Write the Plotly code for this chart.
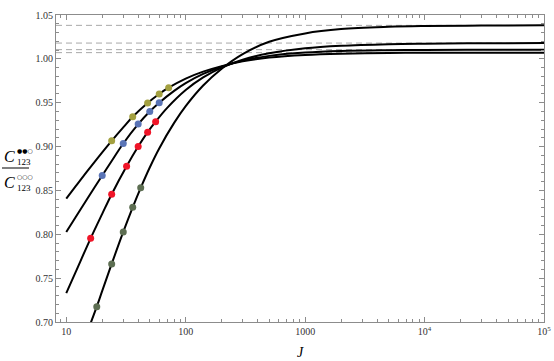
import plotly.graph_objects as go

# curve samples (J, ratio)
J_a = [10, 12, 15, 20, 24, 30, 36, 48, 60, 72, 100, 140, 200, 300, 500, 1000, 2000, 5000, 10000, 30000, 100000]
y_a = [0.8407, 0.8548, 0.8720, 0.8935, 0.9066, 0.9219, 0.9340, 0.9498, 0.9600, 0.9671, 0.9775, 0.9854,
       0.9917, 0.9972, 1.0015, 1.0045, 1.0059, 1.0067, 1.0069, 1.0071, 1.0071]

J_b = [10, 12, 15, 20, 25, 30, 40, 50, 60, 80, 100, 140, 200, 300, 500, 1000, 2000, 5000, 10000, 30000, 100000]
y_b = [0.8027, 0.8197, 0.8405, 0.8670, 0.8872, 0.9035, 0.9256, 0.9400, 0.9500, 0.9635, 0.9723, 0.9828,
       0.9910, 0.9980, 1.0034, 1.0072, 1.0090, 1.0099, 1.0102, 1.0104, 1.0105]

J_c = [10, 12, 16, 20, 24, 32, 40, 48, 56, 70, 100, 140, 200, 300, 500, 1000, 2000, 5000, 10000, 30000, 100000]
y_c = [0.7330, 0.7572, 0.7954, 0.8233, 0.8457, 0.8776, 0.9000, 0.9164, 0.9284, 0.9441, 0.9644, 0.9788,
       0.9900, 0.9990, 1.0063, 1.0120, 1.0149, 1.0167, 1.0173, 1.0178, 1.0180]

J_d = [15, 16, 18, 20, 24, 30, 36, 42, 50, 60, 80, 100, 140, 200, 300, 500, 1000, 2000, 5000, 10000, 30000, 100000]
y_d = [0.6866, 0.6986, 0.7175, 0.7355, 0.7662, 0.8027, 0.8308, 0.8530, 0.8762, 0.8979, 0.9270, 0.9461,
       0.9696, 0.9888, 1.0055, 1.0195, 1.0290, 1.0339, 1.0365, 1.0374, 1.0380, 1.0382]

# large-J limits (dashed)
limits = [1.0382, 1.0180, 1.0105, 1.0071]

# coloured points
olive_J = [24, 36, 48, 60, 72]
olive_y = [0.9066, 0.9340, 0.9498, 0.9600, 0.9671]
blue_J = [20, 30, 40, 50, 60]
blue_y = [0.8670, 0.9035, 0.9256, 0.9400, 0.9500]
red_J = [16, 24, 32, 40, 48, 56]
red_y = [0.7954, 0.8457, 0.8776, 0.9000, 0.9164, 0.9284]
green_J = [18, 24, 30, 36, 42]
green_y = [0.7175, 0.7662, 0.8027, 0.8308, 0.8530]

x_ticks = [10, 100, 1000, 10000, 100000]
x_ticktext = ["10", "100", "1000", "10<sup>4</sup>", "10<sup>5</sup>"]
x_minor = [m * 10 ** k for k in range(0, 5) for m in range(2, 10)]

W, H = 554, 361
ML, MR, MT, MB = 56, 10, 15, 39
PW, PH = W - ML - MR, H - MT - MB


# pixels -> paper coords
def px(x):
    return (x - ML) / PW


def py(y):
    return (MT + PH - y) / PH


serif = "Liberation Serif"

fig = go.Figure()

for v in limits:
    fig.add_hline(y=v, line=dict(color="#a8a8a8", width=1, dash="6px,4px"), layer="below")

for xs, ys in [(J_a, y_a), (J_b, y_b), (J_c, y_c), (J_d, y_d)]:
    fig.add_trace(go.Scatter(x=xs, y=ys, mode="lines", line=dict(color="black", width=2, shape="spline"),
                             showlegend=False, hoverinfo="skip"))

for xs, ys, col in [(olive_J, olive_y, "#a3a040"), (blue_J, blue_y, "#5a74b6"),
                    (red_J, red_y, "#f01528"), (green_J, green_y, "#5d6e52")]:
    fig.add_trace(go.Scatter(x=xs, y=ys, mode="markers", marker=dict(color=col, size=7),
                             showlegend=False))

# y label as a stacked fraction
ann = []
for cy, sup in [(156, "●●○"), (182, "○○○")]:
    ann.append(dict(x=px(9), y=py(cy), text="<i>C</i>", font=dict(family=serif, size=16, color="black")))
    ann.append(dict(x=px(15), y=py(cy - 6), text=sup, xanchor="left",
                    font=dict(family="DejaVu Sans", size=6, color="black")))
    ann.append(dict(x=px(15), y=py(cy + 6), text="123", xanchor="left",
                    font=dict(family=serif, size=9, color="black")))
ann.append(dict(x=0.5, y=py(352), text="<i>J</i>", font=dict(family=serif, size=14, color="black")))
for a in ann:
    a.update(xref="paper", yref="paper", showarrow=False)
    a.setdefault("xanchor", "center")
    a["yanchor"] = "middle"

fig.add_shape(type="line", xref="paper", yref="paper", x0=px(2), x1=px(29), y0=py(168), y1=py(168),
              line=dict(color="black", width=1))

axis_style = dict(showline=True, linecolor="#8c8c8c", linewidth=1, mirror="ticks", ticks="inside",
                  ticklen=5, tickcolor="#8c8c8c", showgrid=False, zeroline=False,
                  tickfont=dict(family=serif, size=10, color="#333333"))

fig.update_layout(
    width=W, height=H,
    margin=dict(l=ML, r=MR, t=MT, b=MB, autoexpand=False),
    paper_bgcolor="white", plot_bgcolor="white",
    annotations=ann,
    xaxis=dict(type="log", range=[0.914, 5.0], tickmode="array", tickvals=x_ticks, ticktext=x_ticktext,
               minor=dict(tickmode="array", tickvals=x_minor, ticks="inside", ticklen=3, tickcolor="#8c8c8c"),
               **axis_style),
    yaxis=dict(range=[0.70, 1.05], tick0=0.7, dtick=0.05, tickformat=".2f",
               minor=dict(dtick=0.01, ticks="inside", ticklen=3, tickcolor="#8c8c8c"),
               **axis_style),
)

# drop the default page margin so the figure sits at the window's corner
fig.write_html("out.html", config={"displayModeBar": False},
               post_script="document.body.style.margin = '0';")
